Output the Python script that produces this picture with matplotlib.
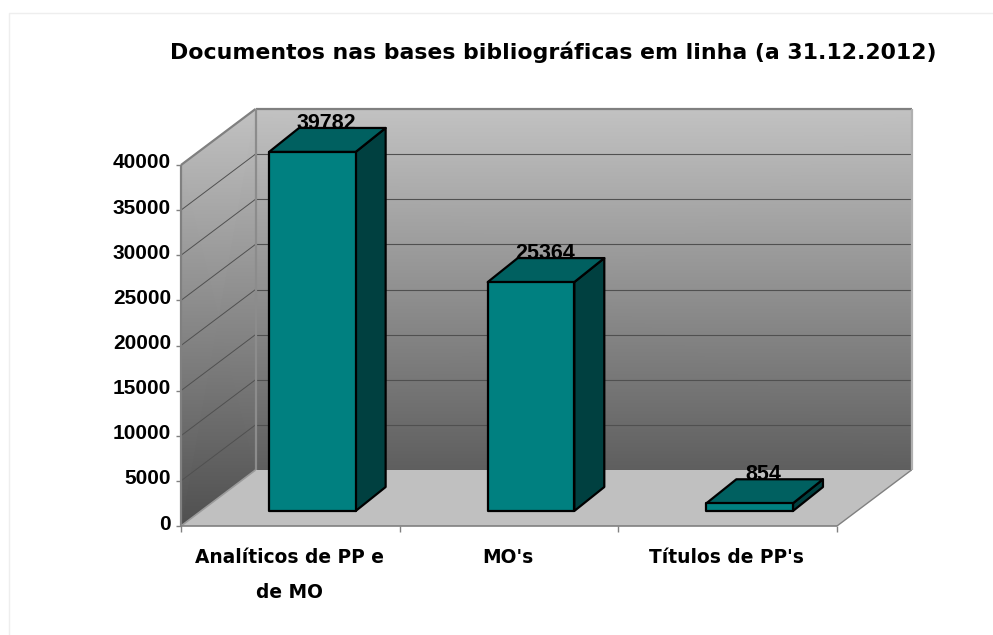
import matplotlib
matplotlib.use('Agg')
import matplotlib.pyplot as plt
import numpy as np
from matplotlib.lines import Line2D
from matplotlib.patches import Polygon
from matplotlib.transforms import IdentityTransform

categories = ['Analíticos de PP e\nde MO', "MO's", "Títulos de PP's"]
values = [39782, 25364, 854]
y_ticks = [0, 5000, 10000, 15000, 20000, 25000, 30000, 35000, 40000]
title = 'Documentos nas bases bibliográficas em linha (a 31.12.2012)'

W, H = 993, 635
DEPTH = (74.5, 56)       # floor depth in pixels
BAR_FRONT = (22, 15)     # bar front offset from the axis plane
BAR_DEPTH = (30, 24)
BAR_WIDTH = 0.396

plt.rcParams['font.family'] = ['DejaVu Sans']
plt.rcParams['font.weight'] = 'bold'

fig = plt.figure(figsize=(W / 100, H / 100), dpi=100)
ax = fig.add_axes([181 / W, 1 - 526 / H, 656 / W, 361 / H])
ax.set_xlim(0, 3)
ax.set_ylim(0, 40000)
ax.patch.set_alpha(0)
for s in ax.spines.values():
    s.set_visible(False)
fig.canvas.draw()


def px(x, y, dx=0, dy=0):
    p = ax.transData.transform((x, y))
    return (p[0] + dx, p[1] + dy)


def poly(points, **kw):
    ax.add_patch(Polygon(points, closed=True, transform=IdentityTransform(), clip_on=False, **kw))


def line(a, b, **kw):
    ax.plot([a[0], b[0]], [a[1], b[1]], transform=IdentityTransform(), clip_on=False, solid_capstyle='butt', **kw)


def wall(p00, p01, p10, p11):
    # grey gets darker going down the picture, same ramp on both walls
    xs = np.array([[p00[0], p01[0]], [p10[0], p11[0]]])
    ys = np.array([[p00[1], p01[1]], [p10[1], p11[1]]])
    y_low = px(0, 0)[1]
    y_high = px(0, 40000, *DEPTH)[1]
    shade = 0.31 + 0.45 * (ys - y_low) / (y_high - y_low)
    ax.pcolormesh(xs, ys, shade, shading='gouraud', cmap='gray', vmin=0, vmax=1,
                  transform=IdentityTransform(), clip_on=False, zorder=1)


# page frame, only top and left show
fig.add_artist(Line2D([9 / W, 9 / W, 1], [0, 1 - 12.5 / H, 1 - 12.5 / H], color='#eeeeee', lw=1, zorder=-1))

wall(px(0, 0, *DEPTH), px(3, 0, *DEPTH), px(0, 40000, *DEPTH), px(3, 40000, *DEPTH))
wall(px(0, 0), px(0, 0, *DEPTH), px(0, 40000), px(0, 40000, *DEPTH))

# floor
poly([px(0, 0), px(3, 0), px(3, 0, *DEPTH), px(0, 0, *DEPTH)], fc='#c0c0c0', ec='none', zorder=1.5)

# gridlines
for v in y_ticks[1:]:
    c = '#808080' if v == 40000 else '#505050'
    lw = 1.6 if v == 40000 else 0.8
    line(px(0, v, *DEPTH), px(3, v, *DEPTH), color=c, lw=lw, zorder=2)
    line(px(0, v), px(0, v, *DEPTH), color=c, lw=lw if v == 40000 else 0.7, zorder=2)

# wall edges
line(px(0, 0), px(0, 40000), color='#808080', lw=1.6, zorder=2.1)
line(px(0, 0, *DEPTH), px(0, 40000, *DEPTH), color='#8c8c8c', lw=1.6, zorder=2.1)
line(px(3, 0, *DEPTH), px(3, 40000, *DEPTH), color='#b0b0b0', lw=1.6, zorder=2.1)
line(px(0, 0), px(0, 0, *DEPTH), color='#9a9a9a', lw=1.2, zorder=2.1)
line(px(3, 0), px(3, 0, *DEPTH), color='#808080', lw=1, zorder=2.1)

# axis lines and ticks
line(px(0, 0), px(3, 0), color='#808080', lw=1.2, zorder=2.2)
for i in range(4):
    line(px(i, 0), px(i, 0, 0, -6), color='#808080', lw=1, zorder=2.2)
for v in y_ticks:
    line(px(0, v), px(0, v, -5, 0), color='#808080', lw=1, zorder=2.2)
    p = px(0, v, -10, 2)
    ax.text(p[0], p[1], str(v), transform=IdentityTransform(), ha='right', va='center',
            fontsize=15, family='Liberation Sans', color='black', clip_on=False)

# bars
for i, v in enumerate(values):
    x0 = i + 0.5 - BAR_WIDTH / 2
    x1 = i + 0.5 + BAR_WIDTH / 2
    a = px(x0, 0, *BAR_FRONT)
    b = px(x1, 0, *BAR_FRONT)
    c = px(x1, v, *BAR_FRONT)
    d = px(x0, v, *BAR_FRONT)
    sh = lambda p: (p[0] + BAR_DEPTH[0], p[1] + BAR_DEPTH[1])
    poly([b, sh(b), sh(c), c], fc='#004040', ec='black', lw=1.6, joinstyle='round', zorder=3)
    poly([d, c, sh(c), sh(d)], fc='#006060', ec='black', lw=1.6, joinstyle='round', zorder=3)
    poly([a, b, c, d], fc='#008080', ec='black', lw=1.6, joinstyle='round', zorder=3)
    p = sh(d)
    ax.text((p[0] + sh(c)[0]) / 2 - 16, p[1] + 4.5, str(v), transform=IdentityTransform(), ha='center', va='center',
            fontsize=15.5, family='Liberation Sans', weight='bold', color='black', clip_on=False, zorder=4)

# category labels
for i, label in enumerate(categories):
    p = px(i + 0.5, 0, -1, -22)
    ax.text(p[0], p[1], label, transform=IdentityTransform(), ha='center', va='top',
            fontsize=13.4, linespacing=2.05, color='black', clip_on=False)

ax.set_xticks([])
ax.set_yticks([])
fig.text(553 / W, 1 - 52 / H, title, ha='center', va='center', fontsize=15.8, color='black')

fig.savefig('out.png', dpi=100)
